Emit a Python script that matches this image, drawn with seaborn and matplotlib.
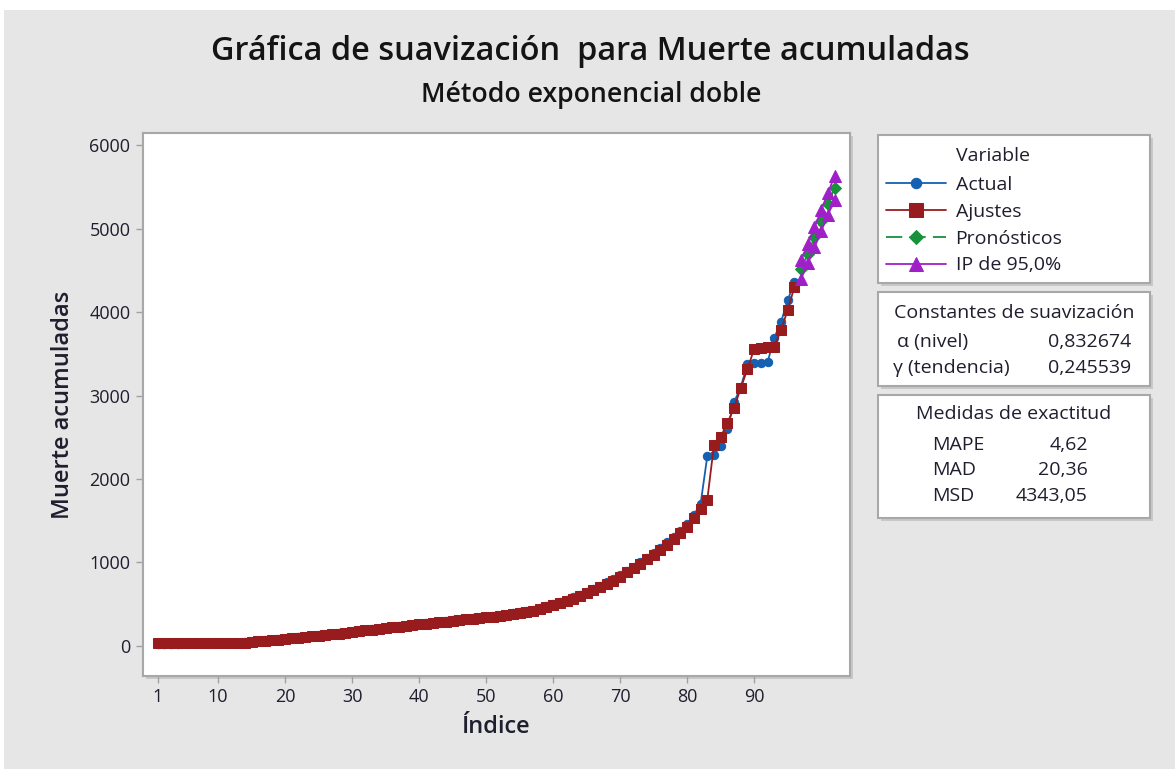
import matplotlib
matplotlib.use("Agg")
import matplotlib.pyplot as plt
import seaborn as sns
import pandas as pd
from matplotlib.patches import Rectangle

sns.set_style("white")
plt.rcParams["font.family"] = ["Open Sans", "DejaVu Sans"]

# Datos
indice = list(range(1, 97))
actual = [
    26, 27, 28, 29, 30, 31, 32, 33, 34, 35,
    36, 38, 41, 46, 53, 60, 67, 74, 81, 89,
    96, 104, 112, 120, 128, 136, 144, 152, 160, 168,
    180, 190, 199, 208, 216, 225, 234, 243, 252, 261,
    269, 278, 287, 296, 305, 313, 321, 329, 337, 345,
    354, 364, 376, 389, 404, 416, 434, 454, 476, 500,
    526, 554, 584, 616, 650, 686, 724, 764, 806, 851,
    900, 951, 1004, 1059, 1116, 1176, 1240, 1308, 1380, 1460,
    1570, 1700, 2270, 2290, 2400, 2600, 2920, 3100, 3380, 3385,
    3390, 3400, 3690, 3880, 4140, 4360,
]
ajustes = [
    30, 30, 31, 31, 32, 32, 33, 33, 34, 34,
    35, 36, 38, 41, 48, 55, 62, 70, 77, 84,
    92, 100, 108, 116, 124, 132, 140, 148, 156, 164,
    175, 186, 196, 205, 214, 222, 231, 240, 249, 258,
    264, 273, 282, 291, 300, 309, 317, 325, 333, 341,
    349, 357, 367, 379, 392, 407, 424, 443, 464, 487,
    512, 539, 568, 599, 632, 667, 704, 743, 784, 827,
    880, 930, 982, 1036, 1092, 1150, 1212, 1280, 1350, 1425,
    1530, 1640, 1749, 2407, 2503, 2671, 2850, 3090, 3317, 3560,
    3575, 3580, 3585, 3784, 4024, 4299,
]
indice_pron = [97, 98, 99, 100, 101, 102]
pronosticos = [4510, 4700, 4895, 5095, 5295, 5485]
ip_superior = [4620, 4815, 5015, 5220, 5425, 5630]
ip_inferior = [4400, 4585, 4775, 4970, 5165, 5340]

x_ticks = [1, 10, 20, 30, 40, 50, 60, 70, 80, 90]
y_ticks = [0, 1000, 2000, 3000, 4000, 5000, 6000]

AZUL = "#1560b0"
ROJO = "#981b1e"
VERDE = "#17913a"
MORADO = "#a020c8"
GRIS = "#e6e6e6"
TEXTO = "#1e1e2e"
BORDE = "#a8a8a8"
SOMBRA = "#c8c8c8"

W, H = 1175, 769


def px(x, y):
    return x / W, 1 - y / H


def caja(x0, y0, x1, y1):
    # sombra y caja blanca con borde gris
    fig.patches.append(Rectangle(px(x0 + 3, y1 + 3), (x1 - x0) / W, (y1 - y0) / H,
                                 transform=fig.transFigure, facecolor=SOMBRA,
                                 edgecolor="none", zorder=-4))
    fig.patches.append(Rectangle(px(x0, y1), (x1 - x0) / W, (y1 - y0) / H,
                                 transform=fig.transFigure, facecolor="white",
                                 edgecolor=BORDE, linewidth=1.5, zorder=-3))


fig = plt.figure(figsize=(W / 100, H / 100), dpi=100, facecolor="white")
fig.patches.append(Rectangle((4 / W, 0), 1, 759 / H, transform=fig.transFigure,
                             facecolor=GRIS, edgecolor="none", zorder=-5))

caja(143, 133, 850, 676)
ax = fig.add_axes([143 / W, 93 / H, 707 / W, 543 / H])
ax.set_facecolor("white")

df_act = pd.DataFrame({"Índice": indice, "Valor": actual})
df_aju = pd.DataFrame({"Índice": indice, "Valor": ajustes})
df_pro = pd.DataFrame({"Índice": indice_pron, "Valor": pronosticos,
                       "Sup": ip_superior, "Inf": ip_inferior})

sns.lineplot(data=df_act, x="Índice", y="Valor", color=AZUL, marker="o", markersize=6,
             markeredgecolor=AZUL, linewidth=1.3, ax=ax, zorder=2, label="Actual")
sns.lineplot(data=df_aju, x="Índice", y="Valor", color=ROJO, marker="s", markersize=7.5,
             markeredgecolor=ROJO, linewidth=1.3, ax=ax, zorder=3, label="Ajustes")
sns.lineplot(data=df_pro, x="Índice", y="Valor", color=VERDE, marker="D", markersize=6,
             markeredgecolor=VERDE, linewidth=1.3, linestyle=(0, (9, 4)), ax=ax, zorder=4,
             label="Pronósticos")
sns.lineplot(data=df_pro, x="Índice", y="Sup", color=MORADO, marker="^", markersize=8.5,
             markeredgecolor=MORADO, linewidth=1.3, ax=ax, zorder=5, label="IP de 95,0%")
sns.lineplot(data=df_pro, x="Índice", y="Inf", color=MORADO, marker="^", markersize=8.5,
             markeredgecolor=MORADO, linewidth=1.3, ax=ax, zorder=5)

ax.set_xlim(-1.2, 104.3)
ax.set_ylim(-360, 6145)
ax.set_xticks(x_ticks)
ax.set_yticks(y_ticks)
ax.tick_params(axis="both", direction="out", length=5, width=1, color="#a0a0a0",
               labelsize=13, labelcolor=TEXTO, pad=4, bottom=True, left=True)
for s in ax.spines.values():
    s.set_color(BORDE)
    s.set_linewidth(1.5)
ax.set_xlabel("Índice", fontsize=17, fontweight="semibold", color=TEXTO, labelpad=6)
ax.set_ylabel("Muerte acumuladas", fontsize=17, fontweight="semibold", color=TEXTO, labelpad=10)

handles, labels = ax.get_legend_handles_labels()
if ax.get_legend() is not None:
    ax.get_legend().remove()

fig.text(*px(590, 52), "Gráfica de suavización  para Muerte acumuladas", fontsize=23.4,
         fontweight="semibold", color="#141414", ha="center", va="center")
fig.text(*px(591, 95), "Método exponencial doble", fontsize=19.2, fontweight="semibold",
         color="#141414", ha="center", va="center")

# cajas de la derecha
for (y0, y1) in [(135, 283), (292, 386), (395, 518)]:
    caja(878, y0, 1150, y1)

leg = fig.legend(handles[:4], labels[:4], loc="upper left", bbox_to_anchor=px(872, 162),
                 frameon=False, fontsize=14,
                 handlelength=3.1, handletextpad=0.5, labelspacing=0.46, borderpad=0.2,
                 markerscale=1.25)
for t in leg.get_texts():
    t.set_color(TEXTO)

kw = dict(fontsize=14, color=TEXTO, va="center")
fig.text(*px(993, 156), "Variable", ha="center", **kw)
fig.text(*px(1014, 313), "Constantes de suavización", ha="center", **kw)
fig.text(*px(897, 342), "α (nivel)", ha="left", **kw)
fig.text(*px(1131, 342), "0,832674", ha="right", **kw)
fig.text(*px(893, 368), "γ (tendencia)", ha="left", **kw)
fig.text(*px(1131, 368), "0,245539", ha="right", **kw)
fig.text(*px(1014, 414), "Medidas de exactitud", ha="center", **kw)
fig.text(*px(932, 445), "MAPE", ha="left", **kw)
fig.text(*px(1088, 445), "4,62", ha="right", **kw)
fig.text(*px(932, 470), "MAD", ha="left", **kw)
fig.text(*px(1088, 470), "20,36", ha="right", **kw)
fig.text(*px(932, 496), "MSD", ha="left", **kw)
fig.text(*px(1088, 496), "4343,05", ha="right", **kw)

fig.savefig("out.png", dpi=100, facecolor=fig.get_facecolor())
